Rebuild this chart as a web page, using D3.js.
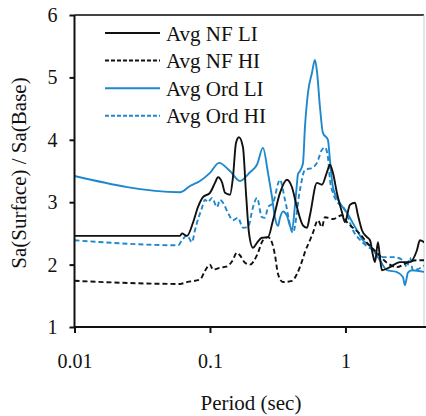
<!DOCTYPE html>
<html>
<head>
<meta charset="utf-8">
<script src="https://cdn.jsdelivr.net/npm/d3@7"></script>
<style>
  html, body { margin: 0; padding: 0; background: #fff; }
  svg { display: block; }
</style>
</head>
<body>
<svg id="chart" width="426" height="416"></svg>
<script>
// Spectral ratio Sa(Surface)/Sa(Base) against period, four averaged cases.
const seriesNames = ["Avg NF LI", "Avg NF HI", "Avg Ord LI", "Avg Ord HI"];
const xTicks = [0.01, 0.1, 1];
const yTicks = [1, 2, 3, 4, 5, 6];

// [period (s), ratio]
const nfLI = [
  [0.01, 2.46], [0.0601, 2.46], [0.0621, 2.50], [0.0676, 2.46], [0.0749, 2.67],
  [0.0815, 2.92], [0.0888, 3.08], [0.1, 3.15], [0.1089, 3.31], [0.1146, 3.40],
  [0.1227, 3.32], [0.1291, 3.15], [0.1405, 3.12], [0.1478, 3.40], [0.1556, 3.95],
  [0.1637, 4.04], [0.1752, 3.88], [0.1844, 3.15], [0.194, 2.51], [0.2077, 2.27],
  [0.2222, 2.35], [0.242, 2.43], [0.268, 2.44], [0.2919, 2.71], [0.3287, 3.15],
  [0.3702, 3.36], [0.4029, 3.24], [0.4386, 2.92], [0.4855, 2.63], [0.5197, 2.59],
  [0.5469, 2.79], [0.6159, 3.31], [0.6705, 3.28], [0.7299, 3.48], [0.7681, 3.60],
  [0.8083, 3.47], [0.8652, 3.15], [0.9421, 2.84], [0.9914, 2.68], [1.08, 2.96],
  [1.175, 2.99], [1.237, 2.79], [1.324, 2.55], [1.442, 2.44], [1.517, 2.39],
  [1.596, 2.15], [1.652, 2.04], [1.738, 2.36], [1.798, 2.11], [1.859, 1.91],
  [2.129, 1.96], [2.525, 2.04], [2.992, 2.04], [3.37, 2.23], [3.545, 2.39],
  [3.862, 2.35]
];

const nfHI = [
  [0.01, 1.74], [0.0601, 1.69], [0.0676, 1.72], [0.0844, 1.76], [0.0919, 1.90],
  [0.1, 2.0], [0.1052, 1.92], [0.1186, 1.95], [0.1335, 1.97], [0.1453, 2.05],
  [0.1582, 2.19], [0.1664, 2.15], [0.1813, 2.03], [0.1973, 2.0], [0.2222, 2.15],
  [0.2461, 2.39], [0.268, 2.44], [0.287, 2.35], [0.302, 2.15], [0.3177, 1.85],
  [0.3458, 1.72], [0.4029, 1.74], [0.4386, 1.85], [0.4855, 2.1], [0.5023, 2.2],
  [0.5469, 2.39], [0.5754, 2.51], [0.6264, 2.71], [0.6705, 2.6], [0.7055, 2.76],
  [0.8083, 2.73], [0.9421, 2.79], [1.026, 2.68], [1.136, 2.59], [1.28, 2.49],
  [1.442, 2.35], [1.708, 2.19], [2.024, 2.03], [2.4, 1.96], [2.843, 2.03],
  [3.37, 2.07], [3.862, 2.07]
];

const ordLI = [
  [0.01, 3.42], [0.0601, 3.16], [0.0712, 3.26], [0.0844, 3.34], [0.1, 3.47],
  [0.1166, 3.63], [0.1405, 3.50], [0.1664, 3.34], [0.1973, 3.48], [0.2222, 3.60],
  [0.2461, 3.87], [0.268, 3.47], [0.287, 3.08], [0.302, 2.75], [0.3177, 2.62],
  [0.3287, 2.75], [0.3458, 2.85], [0.3702, 2.78], [0.3894, 2.62], [0.4029, 2.55],
  [0.424, 2.95], [0.4386, 3.30], [0.4461, 3.45], [0.4615, 3.50], [0.4855, 3.62],
  [0.5023, 4.20], [0.5286, 4.75], [0.5658, 5.07], [0.5953, 5.28], [0.6159, 5.10],
  [0.6481, 4.53], [0.6819, 4.11], [0.7424, 4.0], [0.7681, 3.68], [0.8083, 3.24],
  [0.88, 3.04], [1.026, 2.83], [1.216, 2.55], [1.347, 2.39], [1.517, 2.30],
  [1.798, 2.07], [2.024, 1.91], [2.4, 1.88], [2.657, 1.80], [2.748, 1.67],
  [2.892, 1.87], [3.096, 1.91], [3.862, 1.88]
];

const ordHI = [
  [0.01, 2.39], [0.0582, 2.31], [0.0621, 2.39], [0.0676, 2.47], [0.0736, 2.36],
  [0.0775, 2.55], [0.0802, 2.67], [0.0873, 2.91], [0.0919, 3.04], [0.0967, 3.0],
  [0.1035, 3.07], [0.1127, 2.92], [0.1186, 3.04], [0.1248, 2.99], [0.1358, 2.83],
  [0.1478, 2.71], [0.1609, 2.75], [0.1752, 2.59], [0.1907, 2.60], [0.2077, 2.92],
  [0.2222, 3.07], [0.242, 2.76], [0.2547, 2.75], [0.268, 2.92], [0.2919, 2.99],
  [0.3287, 3.36], [0.3578, 3.04], [0.4098, 2.51], [0.4615, 3.20], [0.5023, 3.52],
  [0.5658, 3.55], [0.6159, 3.63], [0.6705, 3.84], [0.7055, 3.88], [0.7424, 3.72],
  [0.7681, 3.36], [0.8083, 3.15], [0.88, 2.99], [0.9914, 2.88], [1.136, 2.55],
  [1.347, 2.35], [1.596, 2.23], [1.891, 2.12], [2.242, 2.12], [2.657, 2.07],
  [2.843, 1.96], [2.992, 2.11], [3.149, 1.91], [3.862, 1.99]
];

const seriesData = [nfLI, nfHI, ordLI, ordHI];
const seriesColor = ["#111111", "#111111", "#1f88cc", "#1f88cc"];
const seriesDash = [null, "5,3", null, "5,3"];
const serif = "Liberation Serif";

const svg = d3.select("#chart");
const margin = { left: 74.5, right: 2, top: 15, bottom: 89 };
const W = 426, H = 416;

const x = d3.scaleLog().domain([0.01, 3.8]).range([margin.left, W - margin.right]);
const y = d3.scaleLinear().domain([1, 6]).range([H - margin.bottom, margin.top]);

// plot clip
svg.append("clipPath").attr("id", "plotClip")
  .append("rect")
  .attr("x", margin.left).attr("y", margin.top - 2)
  .attr("width", W - margin.right - margin.left)
  .attr("height", H - margin.bottom - margin.top + 2);

// frame top and right
svg.append("line")
  .attr("x1", margin.left).attr("x2", W - margin.right)
  .attr("y1", y(6)).attr("y2", y(6))
  .attr("stroke", "#444").attr("stroke-width", 2);
svg.append("line")
  .attr("x1", W - margin.right).attr("x2", W - margin.right)
  .attr("y1", y(6)).attr("y2", y(1))
  .attr("stroke", "#ccc").attr("stroke-width", 1);

const line = d3.line()
  .x(d => x(d[0]))
  .y(d => y(d[1]))
  .curve(d3.curveMonotoneX);

const plot = svg.append("g").attr("clip-path", "url(#plotClip)");
// blue series first, black on top
[3, 2, 1, 0].forEach(i => {
  plot.append("path")
    .datum(seriesData[i])
    .attr("d", line)
    .attr("fill", "none")
    .attr("stroke", seriesColor[i])
    .attr("stroke-width", 1.9)
    .attr("stroke-dasharray", seriesDash[i])
    .attr("stroke-linejoin", "round");
});

// axes
const xAxis = d3.axisBottom(x).tickValues(xTicks)
  .tickFormat(d => String(d)).tickSize(6).tickPadding(21);
const gx = svg.append("g").attr("transform", `translate(0,${y(1)})`).call(xAxis);
gx.select(".domain").attr("stroke", "#111").attr("stroke-width", 2)
  .attr("d", `M${margin.left},0H${W}`);
gx.selectAll(".tick line").attr("stroke", "#111").attr("stroke-width", 2);
gx.selectAll(".tick text").attr("font-family", serif).attr("font-size", 20).attr("fill", "#111");

const yAxis = d3.axisLeft(y).tickValues(yTicks).tickFormat(d3.format("d"))
  .tickSize(5).tickPadding(12);
const gy = svg.append("g").attr("transform", `translate(${margin.left},0)`).call(yAxis);
gy.select(".domain").attr("stroke", "#111").attr("stroke-width", 2)
  .attr("d", `M0,${y(6)}V${y(1)}`);
gy.selectAll(".tick line").attr("stroke", "#111").attr("stroke-width", 2);
gy.selectAll(".tick text").attr("font-family", serif).attr("font-size", 20).attr("fill", "#111");

// axis titles
svg.append("text")
  .attr("x", 251).attr("y", 410)
  .attr("text-anchor", "middle").attr("font-size", 21)
  .attr("font-family", serif).attr("fill", "#111")
  .text("Period (sec)");
svg.append("text")
  .attr("transform", `translate(26,${173}) rotate(-90)`)
  .attr("text-anchor", "middle").attr("font-size", 21)
  .attr("font-family", serif).attr("fill", "#111")
  .text("Sa(Surface) / Sa(Base)");

// legend
const legend = svg.append("g").attr("transform", "translate(105,33)");
seriesNames.forEach((name, i) => {
  const row = legend.append("g").attr("transform", `translate(0,${i * 27.6})`);
  row.append("line")
    .attr("x1", 0).attr("x2", 55).attr("y1", 0).attr("y2", 0)
    .attr("stroke", seriesColor[i]).attr("stroke-width", 2)
    .attr("stroke-dasharray", seriesDash[i] ? "4,2" : null);
  row.append("text")
    .attr("x", 61).attr("y", 7.5)
    .attr("font-size", 21)
    .attr("font-family", serif).attr("fill", "#111")
    .text(name);
});
</script>
</body>
</html>
